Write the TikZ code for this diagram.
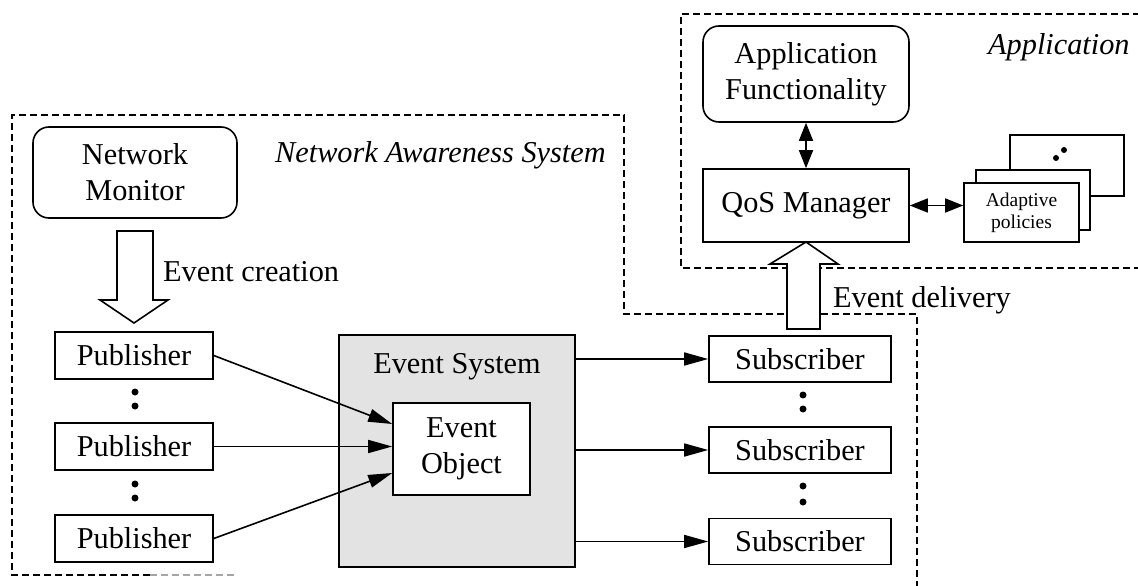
\documentclass[tikz,border=0pt]{standalone}
\usepackage{fontspec}
\setmainfont{Liberation Serif}
\usetikzlibrary{arrows.meta,calc}
\newcommand\mainsz{\fontsize{30.3}{36}\selectfont}
\newcommand\smallsz{\fontsize{19.5}{22}\selectfont}
\begin{document}
\begin{tikzpicture}[x=1pt,y=-1pt,
  box/.style={draw,line width=1.6pt,inner sep=0pt,align=center,font=\mainsz,fill=white},
  rbox/.style={box,rounded corners=16pt},
  pbox/.style={draw,line width=1.6pt,inner sep=0pt,align=center,font=\smallsz,fill=white},
  region/.style={line width=1.4pt,dash pattern=on 7pt off 4pt},
  arr/.style={line width=1.6pt,-{Triangle[length=24pt,width=13pt]}},
  dbl/.style={line width=1.6pt,{Triangle[length=18pt,width=14pt]}-{Triangle[length=18pt,width=14pt]}},
  fat/.style={line width=1.6pt,fill=white,line join=miter},
  lab/.style={font=\mainsz,inner sep=0pt},
  dot/.style={circle,fill=black,inner sep=0pt,minimum size=7pt}
]
\useasboundingbox (0,0) rectangle (1138,586);
\fill[white] (0,0) rectangle (1138,586);

% regions
\draw[region] (1140,14) -- (681,14) -- (681,268) -- (1140,268);
\draw[region] (150,575) -- (12,575) -- (12,115) -- (624,115) -- (624,314) -- (917,314) -- (917,590);
\draw[region,black!35] (150,575) -- (236,575);

\node[lab,anchor=west] (appl) at (988,47) {\itshape Application};
\node[lab,anchor=west] (nasl) at (275,155) {\itshape Network Awareness System};

% application side
\node[rbox,minimum width=206pt,minimum height=96pt] (af) at (806,74) {Application\\Functionality};
\node[box,minimum width=206pt,minimum height=73pt] (qos) at (806,205.5) {QoS Manager};
\node[pbox,minimum width=114pt,minimum height=61pt] (pol3) at (1067,165.5) {};
\node[pbox,minimum width=114pt,minimum height=60pt] (pol2) at (1033,200) {};
\node[pbox,minimum width=115pt,minimum height=59pt] (pol1) at (1021.5,212.5) {Adaptive\\policies};
\node[dot,minimum size=6pt] (pd1) at (1056,158) {};
\node[dot,minimum size=6pt] (pd2) at (1064,150) {};
\draw[dbl] (af.south) -- (qos.north);
\draw[dbl] (qos.east) -- (pol1.west |- qos.east);

% network awareness side
\node[rbox,minimum width=204pt,minimum height=91pt] (nm) at (135,172.5) {Network\\Monitor};
\node[box,minimum width=158pt,minimum height=47pt] (p1) at (134,355.5) {Publisher};
\node[box,minimum width=158pt,minimum height=47pt] (p2) at (134,446.5) {Publisher};
\node[box,minimum width=158pt,minimum height=47pt] (p3) at (134,538.5) {Publisher};
\node[dot] (d1) at (135,392) {};
\node[dot] (d2) at (135,406) {};
\node[dot] (d3) at (135,484) {};
\node[dot] (d4) at (135,498) {};

\node[draw,line width=1.6pt,fill=black!11,minimum width=236pt,minimum height=232pt,inner sep=0pt] (es) at (457,451) {};
\node[lab] (esl) at (457,367) {Event System};
\node[box,minimum width=137pt,minimum height=92pt] (eo) at (461.5,449) {Event\\Object};

\node[box,minimum width=182pt,minimum height=46pt] (s1) at (800,359) {Subscriber};
\node[box,minimum width=182pt,minimum height=46pt] (s2) at (800,450) {Subscriber};
\node[box,minimum width=182pt,minimum height=46pt] (s3) at (800,541.5) {Subscriber};
\node[dot] (d5) at (803,395) {};
\node[dot] (d6) at (803,409) {};
\node[dot] (d7) at (803,486) {};
\node[dot] (d8) at (803,502) {};

\draw[arr] (p1.east) -- ([yshift=25pt]eo.west);
\draw[arr] (p2.east) -- (p2.east -| eo.west);
\draw[arr] (p3.east) -- ([yshift=-24pt]eo.west);
\draw[arr] (es.east |- s1.west) -- (s1.west);
\draw[arr] (es.east |- s2.west) -- (s2.west);
\draw[arr] (es.east |- s3.west) -- (s3.west);

% fat arrows
\draw[fat] (117,231) -- (153,231) -- (153,300) -- (168,300) -- (134,323) -- (100,300) -- (117,300) -- cycle;
\node[lab,anchor=west] (ecl) at (163,272) {Event creation};
\draw[fat] (787,329) -- (820,329) -- (820,264) -- (838,264) -- (806,242) -- (770,264) -- (787,264) -- cycle;
\node[lab,anchor=west] (edl) at (833,300) {Event delivery};
\end{tikzpicture}
\end{document}
